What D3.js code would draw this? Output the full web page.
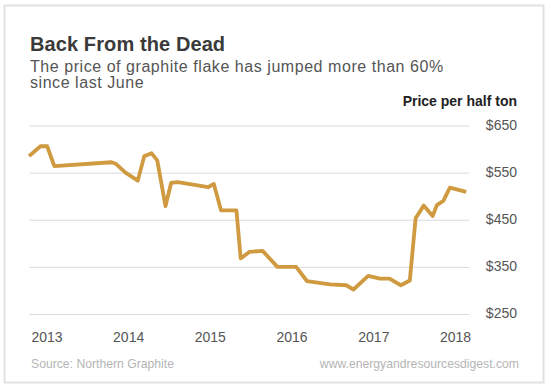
<!DOCTYPE html>
<html>
<head>
<meta charset="utf-8">
<script src="https://cdn.jsdelivr.net/npm/d3@7"></script>
<style>
  html, body { margin: 0; padding: 0; background: #fff; }
  svg { display: block; }
  text { font-family: "Liberation Sans", Arial, Helvetica, sans-serif; }
</style>
</head>
<body>
<svg id="chart" width="547" height="389"></svg>
<script>
// ---- Data ----
const dates = ["2012-10-15","2012-12-05","2013-01-04","2013-02-05","2013-10-19","2013-11-06","2013-12-20",
  "2014-02-13","2014-03-14","2014-04-16","2014-05-11","2014-06-17","2014-07-12","2014-08-11","2014-12-24",
  "2015-01-19","2015-02-20","2015-04-30","2015-05-19","2015-06-28","2015-08-25","2015-10-30",
  "2016-01-22","2016-03-10","2016-06-21","2016-09-02","2016-10-04","2016-12-09",
  "2017-01-30","2017-03-14","2017-05-04","2017-06-13","2017-07-09","2017-08-14","2017-09-23","2017-10-12",
  "2017-11-10","2017-12-09","2018-02-20"];
const prices = [585,606,606,564,572,569,550,
  533,585,591,576,479,528,530,519,
  526,470,470,368,382,384,350,
  350,320,313,311,302,331,
  325,325,311,321,453,480,458,481,
  490,518,509];
const yearTicks = [2013, 2014, 2015, 2016, 2017, 2018];
const priceTicks = [250, 350, 450, 550, 650];
const priceTickLabels = ["$250", "$350", "$450", "$550", "$650"];

const title = "Back From the Dead";
const subtitleLines = ["The price of graphite flake has jumped more than 60%", "since last June"];
const unitLabel = "Price per half ton";
const sourceText = "Source: Northern Graphite";
const siteText = "www.energyandresourcesdigest.com";

// ---- Drawing ----
const svg = d3.select("#chart");
const parse = d3.timeParse("%Y-%m-%d");
const data = dates.map((d, i) => ({ date: parse(d), value: prices[i] }));

// card border
svg.append("rect")
  .attr("x", 4.5).attr("y", 5.5).attr("width", 539).attr("height", 377)
  .attr("fill", "#fff").attr("stroke", "#e2e2e2").attr("stroke-width", 2);

const x = d3.scaleTime()
  .domain([new Date(2013, 0, 1), new Date(2018, 0, 1)])
  .range([46.5, 455]);
const y = d3.scaleLinear().domain([250, 650]).range([314, 125.5]);

const gridLeft = 29.5, gridRight = 469;

// titles
svg.append("text").attr("x", 30).attr("y", 51)
  .attr("font-size", 20).attr("font-weight", "bold").attr("fill", "#3a3a3a")
  .attr("letter-spacing", 0.1)
  .text(title);
svg.append("g").selectAll("text").data(subtitleLines).join("text")
  .attr("x", 30).attr("y", (d, i) => 71.5 + i * 16.8)
  .attr("font-size", 16).attr("letter-spacing", 0.55).attr("fill", "#555")
  .text(d => d);
svg.append("text").attr("x", 517).attr("y", 106)
  .attr("text-anchor", "end").attr("font-size", 14).attr("font-weight", "bold").attr("fill", "#222")
  .text(unitLabel);

// y axis: gridlines + labels
const yAxis = d3.axisRight(y)
  .tickValues(priceTicks)
  .tickSize(gridRight - gridLeft)
  .tickFormat((d, i) => priceTickLabels[i]);
const gy = svg.append("g").attr("transform", `translate(${gridLeft},0)`).call(yAxis);
gy.select(".domain").remove();
gy.selectAll(".tick line").attr("stroke", "#dadada").attr("stroke-width", 1);
gy.selectAll(".tick text")
  .attr("x", 517 - gridLeft).attr("text-anchor", "end").attr("dy", "0.28em")
  .attr("font-size", 14).attr("fill", "#555")
  .style("font-family", "'Liberation Sans', Arial, sans-serif");

// x axis labels
const xAxis = d3.axisBottom(x)
  .tickValues(yearTicks.map(yr => new Date(yr, 0, 1)))
  .tickSize(0)
  .tickFormat(d3.timeFormat("%Y"));
const gx = svg.append("g").attr("transform", "translate(0,331)").call(xAxis);
gx.select(".domain").remove();
gx.selectAll(".tick text")
  .attr("y", 0).attr("dy", "0.76em")
  .attr("font-size", 14).attr("fill", "#555")
  .style("font-family", "'Liberation Sans', Arial, sans-serif");

// line
const line = d3.line().x(d => x(d.date)).y(d => y(d.value));
svg.append("path").datum(data)
  .attr("d", line)
  .attr("fill", "none").attr("stroke", "#cf9a40").attr("stroke-width", 3.8)
  .attr("stroke-linejoin", "round").attr("stroke-linecap", "butt");

// footer
svg.append("text").attr("x", 31).attr("y", 368)
  .attr("font-size", 12.2).attr("fill", "#b5b5b5").text(sourceText);
svg.append("text").attr("x", 519).attr("y", 368).attr("text-anchor", "end")
  .attr("font-size", 12.2).attr("fill", "#b5b5b5").text(siteText);
</script>
</body>
</html>
